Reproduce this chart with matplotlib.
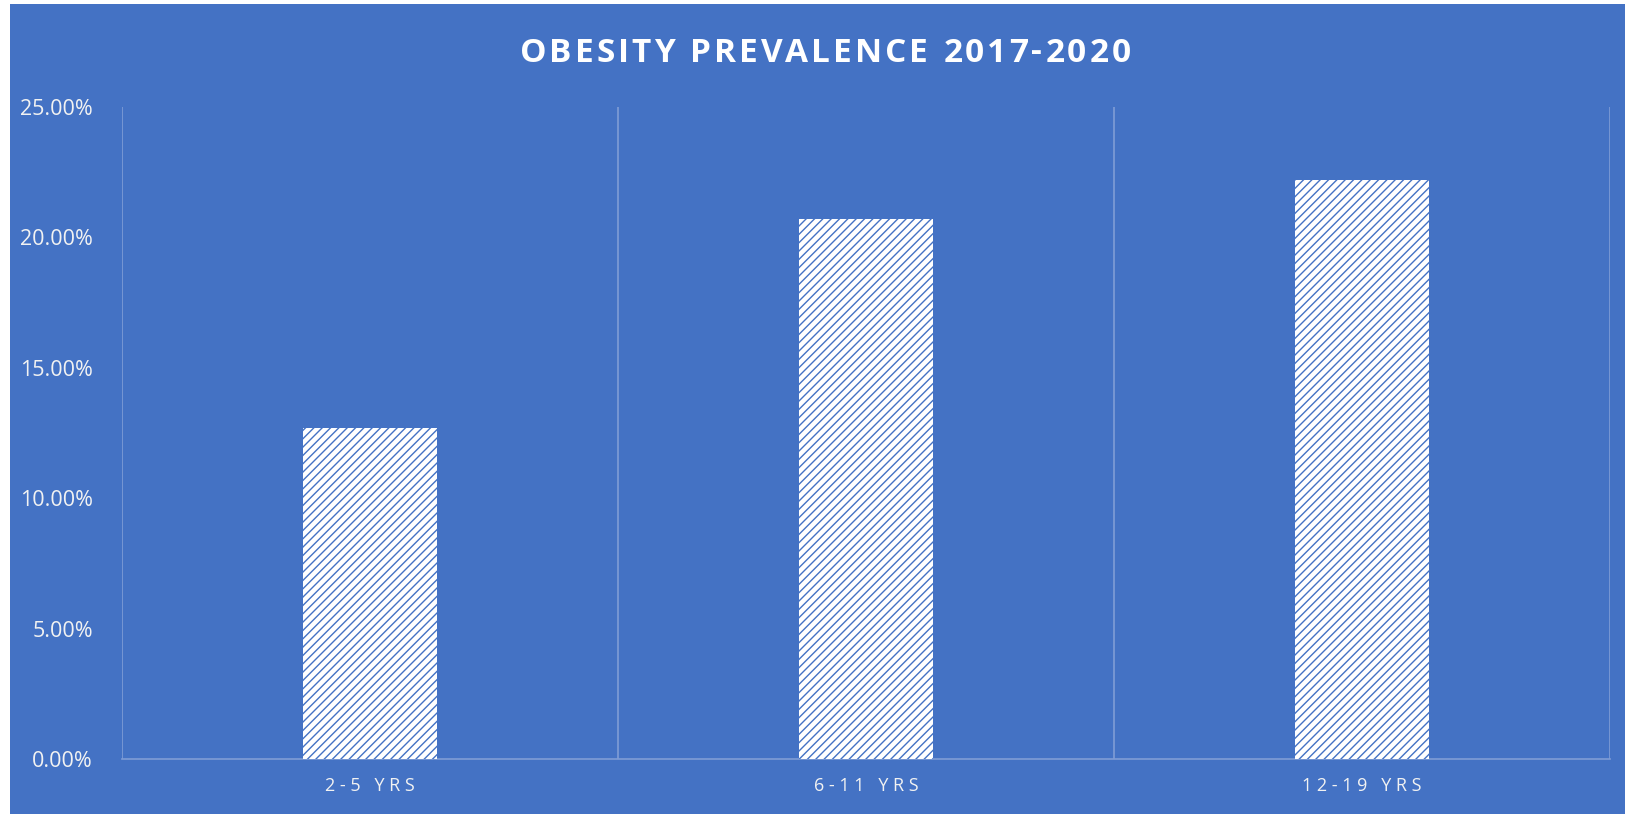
import matplotlib.pyplot as plt
from matplotlib.patches import Rectangle
from matplotlib.ticker import FuncFormatter

# Childhood obesity prevalence by age group, 2017-2020
groups = ["2-5 YRS", "6-11 YRS", "12-19 YRS"]
prevalence = [0.127, 0.207, 0.222]
title = "OBESITY PREVALENCE 2017-2020"

BLUE = "#4472C4"
GRID = "#7F9DD6"
TEXT = "#F2F2F2"

plt.rcParams['font.family'] = ['Open Sans', 'DejaVu Sans']
plt.rcParams['hatch.linewidth'] = 1.0

W, H = 1625, 814
fig = plt.figure(figsize=(W / 100, H / 100), dpi=100, facecolor="white")

# chart area background, leaves a thin white margin at left and top
fig.patches.append(Rectangle((10 / W, 0), 1 - 10 / W, 1 - 4 / H,
                             transform=fig.transFigure, facecolor=BLUE,
                             edgecolor="none", zorder=-10))

ax = fig.add_axes([122 / W, 55 / H, 1488 / W, 652 / H])
ax.set_facecolor("none")

x = range(len(groups))
ax.bar(x, prevalence, width=0.27, facecolor="white", edgecolor=BLUE,
       linewidth=0, hatch="////", zorder=3)

ax.set_xlim(-0.5, len(groups) - 0.5)
ax.set_ylim(0, 0.25)
ax.set_yticks([0, 0.05, 0.10, 0.15, 0.20, 0.25])
ax.yaxis.set_major_formatter(FuncFormatter(lambda v, p: "{:.2f}%".format(v * 100)))

# category separators drawn as vertical gridlines
ax.set_xticks([i - 0.5 for i in range(len(groups) + 1)], minor=True)
ax.grid(which="minor", axis="x", color=GRID, linewidth=1.2)
ax.set_xticks(list(x))
ax.set_xticklabels([" ".join(g) for g in groups])

for side in ["top", "left", "right"]:
    ax.spines[side].set_visible(False)
ax.spines["bottom"].set_color(GRID)
ax.spines["bottom"].set_linewidth(1.2)

ax.tick_params(which="both", length=0)
ax.tick_params(axis="y", labelsize=15.5, labelcolor=TEXT, pad=21)
ax.tick_params(axis="x", labelsize=13, labelcolor=TEXT, pad=13)


def tracked_text(fig, xc, yc, s, tracking, space=9, **kw):
    """Draw s centred at pixel (xc, yc) with extra spacing between letters."""
    renderer = fig.canvas.get_renderer()
    widths = []
    for ch in s:
        if ch == " ":
            widths.append(space)
            continue
        t = fig.text(0, 0, ch, **kw)
        widths.append(t.get_window_extent(renderer).width)
        t.remove()
    total = sum(widths) + tracking * (len(s) - 1)
    xpos = xc - total / 2
    for ch, w in zip(s, widths):
        if ch != " ":
            fig.text(xpos / W, yc / H, ch, ha="left", va="center", **kw)
        xpos += w + tracking


tracked_text(fig, 825, H - 53, title, 3.0, fontsize=24,
             fontweight="bold", color="white")

fig.savefig("out.png", dpi=100, facecolor="white")
